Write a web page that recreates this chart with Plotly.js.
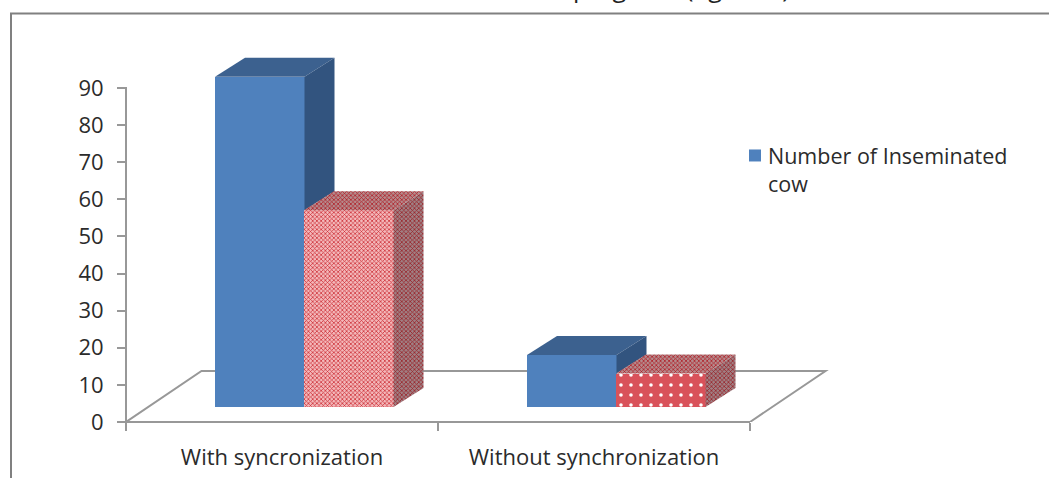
<!DOCTYPE html>
<html>
<head>
<meta charset="utf-8">
<script src="https://cdn.plot.ly/plotly-3.0.1.min.js"></script>
<style>html,body{margin:0;padding:0;background:#fff}#c{width:1049px;height:478px}</style>
</head>
<body>
<div id="c"></div>
<script>
const categories = ['With syncronization', 'Without synchronization'];
const inseminated = [89, 14];
const pregnant = [53, 9];
const yTicks = [0, 10, 20, 30, 40, 50, 60, 70, 80, 90];
const legendLabel = 'Number of Inseminated<br>cow';
const captionText = 'pregnant (figure 6)';

const W = 1049, H = 478, L = 126, R = 139, T = 30, B = 56;
const unitX = 1 / 312, unitY = 90 / 334;
const depthX = 30 * unitX, depthY = 19 * unitY;
const floorX = 75.5 * unitX, floorY = 51 * unitY;
const base = 15 * unitY;
const blueOff = -67 * unitX, redOff = 22 * unitX, barW = 89.5 * unitX;
const xMax = -0.5 + (W - L - R) * unitX, yMax = (H - T - B) * unitY;
const FONT = 'Open Sans, sans-serif';
const ink = '#2b2b2b', grey = '#989898';

function face(xs, ys, fill, pattern) {
  const t = { type: 'scatter', x: xs.concat(xs[0]), y: ys.concat(ys[0]), xaxis: 'x2', yaxis: 'y',
    mode: 'lines', line: { width: 0 }, fill: 'toself', fillcolor: fill,
    hoverinfo: 'skip', showlegend: false };
  if (pattern) t.fillpattern = pattern;
  return t;
}

const traces = [
  { type: 'bar', name: legendLabel, x: categories, y: inseminated, base: base, width: barW, offset: blueOff,
    marker: { color: '#4F81BD', line: { width: 0 } }, showlegend: true, hoverinfo: 'skip' },
  { type: 'bar', name: 'Pregnant', x: categories, y: pregnant, base: base, width: barW, offset: redOff,
    marker: { color: '#EFA5A8', line: { width: 0 },
      pattern: { shape: ['x', '.'], fgcolor: ['#CC2A32', '#FFFFFF'], bgcolor: ['#F3B8BA', '#D9525A'],
        size: [3, 10], solidity: [0.42, 0.1] } },
    showlegend: false, hoverinfo: 'skip' }
];

categories.forEach((c, i) => {
  const bl = i + blueOff, br = bl + barW, rl = i + redOff, rr = rl + barW;
  const bt = base + inseminated[i], rt = base + pregnant[i];
  traces.push(face([bl, bl + depthX, br + depthX, br], [bt, bt + depthY, bt + depthY, bt], '#3C618F'));
  traces.push(face([br, br + depthX, br + depthX, br], [bt, bt + depthY, rt + depthY, rt], '#32547F'));
  const topPat = { shape: 'x', fgcolor: '#B01820', bgcolor: '#B58A8C', size: 3, solidity: 0.42 };
  const sidePat = { shape: 'x', fgcolor: '#981C22', bgcolor: '#A08084', size: 3, solidity: 0.42 };
  traces.push(face([rl, rl + depthX, rr + depthX, rr], [rt, rt + depthY, rt + depthY, rt], '#B06068', topPat));
  traces.push(face([rr, rr + depthX, rr + depthX, rr], [rt, rt + depthY, base + depthY, base], '#9A5058', sidePat));
});

const px = v => (v - L) / (W - L - R), py = v => 1 - (v - T) / (H - T - B);

const layout = {
  width: W, height: H,
  margin: { l: L, r: R, t: T, b: B, pad: 0 },
  paper_bgcolor: '#fff', plot_bgcolor: 'rgba(0,0,0,0)',
  font: { family: FONT, size: 22, color: ink },
  xaxis: { type: 'category', categoryorder: 'array', categoryarray: categories, range: [-0.5, xMax],
    tickson: 'boundaries', ticks: 'outside', ticklen: 8, tickwidth: 2, tickcolor: grey, ticklabelstandoff: 20,
    showline: false, showgrid: false, zeroline: false,
    tickfont: { family: FONT, size: 22, color: ink }, fixedrange: true },
  xaxis2: { type: 'linear', overlaying: 'x', side: 'bottom', range: [-0.5, xMax], visible: false, fixedrange: true },
  yaxis: { range: [0, yMax], tickmode: 'array', tickvals: yTicks, ticks: 'outside', ticklen: 8, tickwidth: 2, tickcolor: grey,
    ticklabelstandoff: 9, showline: false, showgrid: false, zeroline: false,
    tickfont: { family: FONT, size: 22, color: ink }, fixedrange: true },
  legend: { x: px(728), xanchor: 'left', y: py(135), yanchor: 'top', valign: 'top', bgcolor: 'rgba(0,0,0,0)',
    font: { family: FONT, size: 21.5, color: ink }, itemclick: false, itemdoubleclick: false },
  bargap: 0,
  shapes: [
    { type: 'path', xref: 'x2', yref: 'y', layer: 'below', line: { color: grey, width: 2 },
      path: `M -0.5 0 L ${-0.5 + floorX} ${floorY} L ${1.5 + floorX} ${floorY} L 1.5 0` },
    { type: 'path', xref: 'paper', yref: 'paper', layer: 'below', line: { color: grey, width: 2 },
      path: `M ${px(126)} ${py(87)} L ${px(126)} ${py(422)} L ${px(750)} ${py(422)}` },
    { type: 'path', xref: 'paper', yref: 'paper', layer: 'below', line: { color: '#808080', width: 2 },
      path: `M ${px(11)} ${py(H + 5)} L ${px(11)} ${py(13.5)} L ${px(W + 5)} ${py(13.5)}` }
  ],
  annotations: [
    { xref: 'paper', yref: 'paper', x: px(792), y: py(6), xanchor: 'right', yanchor: 'bottom', showarrow: false,
      text: captionText, font: { family: FONT, size: 25, color: '#222' } }
  ]
};

Plotly.newPlot('c', traces, layout, { displayModeBar: false, staticPlot: true }).then(() => {
  const s = document.querySelector('.legend .legendsymbols');
  if (s) s.setAttribute('transform', 'translate(7,0)');
});
</script>
</body>
</html>
